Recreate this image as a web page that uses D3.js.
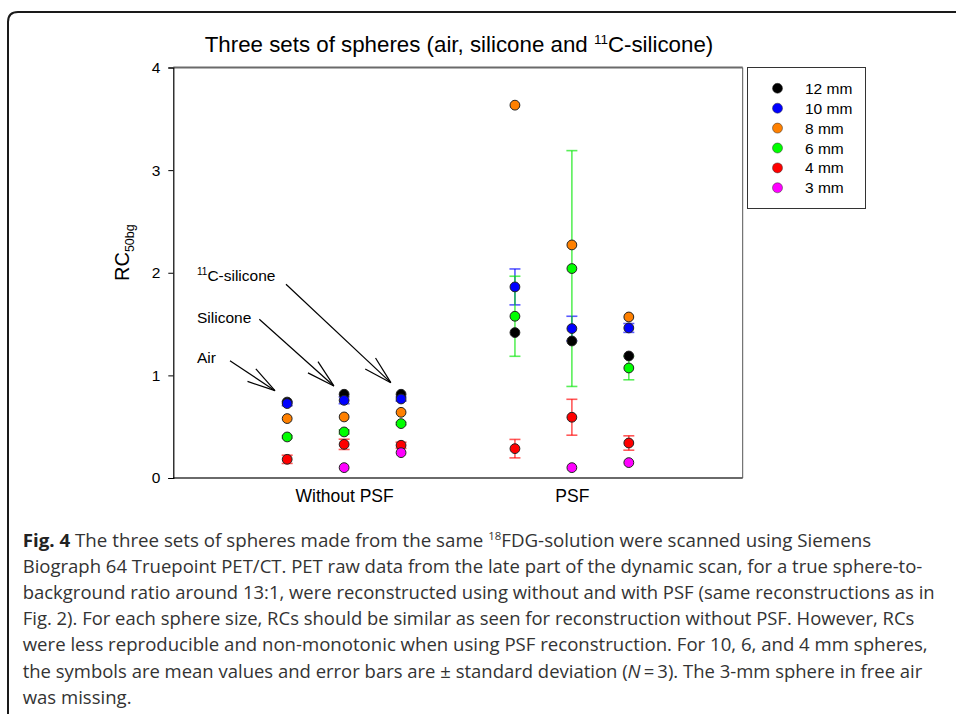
<!DOCTYPE html>
<html>
<head>
<meta charset="utf-8">
<script src="https://cdn.jsdelivr.net/npm/d3@7/dist/d3.min.js"></script>
<style>
  body { margin: 0; background: #fff; }
  svg { display: block; }
  text { font-family: "Liberation Sans", Arial, sans-serif; }
</style>
</head>
<body>
<script>
// ---------------- data ----------------
const categories = ["Without PSF", "PSF"];
const categorySlots = [1, 5];
const sets = ["Air", "Silicone", "11C-silicone"];
// slot position of each column (Without PSF: air, silicone, 11C; PSF: air, silicone, 11C)
const columnSlots = [0, 1, 2, 4, 5, 6];

const sizes = ["12 mm", "10 mm", "8 mm", "6 mm", "4 mm", "3 mm"];
const sizeColors = ["#000000", "#0000ff", "#ff8000", "#00ff00", "#ff0000", "#ff00ff"];

const rc12 = [0.74, 0.816, 0.816, 1.417, 1.335, 1.189];
const rc10 = [0.725, 0.757, 0.77, 1.862, 1.456, 1.462];
const rc8  = [0.579, 0.595, 0.64, 3.633, 2.271, 1.569];
const rc6  = [0.40, 0.449, 0.53, 1.576, 2.041, 1.072];
const rc4  = [0.182, 0.328, 0.319, 0.286, 0.592, 0.341];
const rc3  = [null, 0.101, 0.247, null, 0.101, 0.150];

const sd10 = [0.02, 0.033, 0.02, 0.175, 0.12, 0.043];
const sd6  = [0.012, 0.02, 0.012, 0.39, 1.149, 0.115];
const sd4  = [0.04, 0.05, 0.03, 0.09, 0.175, 0.07];

const yTicks = [0, 1, 2, 3, 4];

// annotation labels and arrows, in data units (slot, RC)
const annLabels = ["Air", "Silicone", "C-silicone"];
const annLabelSup = ["", "", "11"];
const annTextPos = [[-1.584, 1.124], [-1.584, 1.514], [-1.584, 1.920]];
const annArrowFrom = [[-1.005, 1.143], [-0.49, 1.547], [-0.021, 1.888]];
const annArrowTo = [[-0.214, 0.851], [0.82, 0.897], [1.82, 0.929]];

const captionLines = [
  [["b", "Fig. 4"], ["n", " The three sets of spheres made from the same "], ["sup", "18"], ["n", "FDG-solution were scanned using Siemens"]],
  [["n", "Biograph 64 Truepoint PET/CT. PET raw data from the late part of the dynamic scan, for a true sphere-to-"]],
  [["n", "background ratio around 13:1, were reconstructed using without and with PSF (same reconstructions as in"]],
  [["n", "Fig. 2). For each sphere size, RCs should be similar as seen for reconstruction without PSF. However, RCs"]],
  [["n", "were less reproducible and non-monotonic when using PSF reconstruction. For 10, 6, and 4 mm spheres,"]],
  [["n", "the symbols are mean values and error bars are \u00b1 standard deviation ("], ["i", "N"], ["n", "\u2009=\u20093). The 3-mm sphere in free air"]],
  [["n", "was missing."]]
];
const captionEnds = [871.7, 923, 935, 915, 928, 922.7, null];

// ---------------- chart ----------------
const W = 956, H = 714;
const svg = d3.select("body").append("svg").attr("width", W).attr("height", H);

// figure border with rounded top-left corner
svg.append("path")
  .attr("d", "M8,720 L8,22 Q8,12 18,12 L960,12")
  .attr("fill", "none").attr("stroke", "#1a1a1a").attr("stroke-width", 2);

const plot = { left: 173.3, right: 742.7, top: 67.5, bottom: 478 };
const x = d3.scaleLinear().domain([-2, 8]).range([plot.left, plot.right]);
const y = d3.scaleLinear().domain([0, 4]).range([plot.bottom, plot.top]);

// frame
svg.append("line").attr("x1", plot.left).attr("x2", plot.right).attr("y1", plot.top).attr("y2", plot.top)
  .attr("stroke", "#6a6a6a").attr("stroke-width", 2);
svg.append("line").attr("x1", plot.left).attr("x2", plot.right).attr("y1", plot.bottom).attr("y2", plot.bottom)
  .attr("stroke", "#6a6a6a").attr("stroke-width", 2);
svg.append("line").attr("x1", plot.right).attr("x2", plot.right).attr("y1", plot.top).attr("y2", plot.bottom)
  .attr("stroke", "#555").attr("stroke-width", 1);

// y axis
const yAxis = svg.append("g").attr("transform", `translate(${plot.left},0)`)
  .call(d3.axisLeft(y).tickValues(yTicks).tickSize(5).tickPadding(8).tickFormat(d3.format("d")));
yAxis.select(".domain").attr("stroke", "#000").attr("stroke-width", 1.2);
yAxis.selectAll(".tick line").attr("stroke", "#000");
yAxis.selectAll(".tick text").attr("font-size", 15.5).attr("fill", "#000")
  .attr("font-family", "Liberation Sans, Arial, sans-serif");

// x axis (category labels)
const xAxis = svg.append("g").attr("transform", `translate(0,${plot.bottom})`)
  .call(d3.axisBottom(x).tickValues(categorySlots).tickSize(0).tickPadding(12)
    .tickFormat((d, i) => categories[i]));
xAxis.select(".domain").remove();
xAxis.selectAll(".tick text").attr("font-size", 17.5).attr("fill", "#000")
  .attr("font-family", "Liberation Sans, Arial, sans-serif");

// title
const title = svg.append("text").attr("x", 459).attr("y", 52).attr("text-anchor", "middle")
  .attr("font-size", 22.3).attr("fill", "#000");
title.append("tspan").text("Three sets of spheres (air, silicone and ");
title.append("tspan").attr("font-size", 13.5).attr("dy", -8).text("11");
title.append("tspan").attr("dy", 8).text("C-silicone)");

// y label
const yl = svg.append("text").attr("transform", "translate(129,281) rotate(-90)")
  .attr("font-size", 20).attr("fill", "#000");
yl.append("tspan").text("RC");
yl.append("tspan").attr("font-size", 12.5).attr("dy", 5).text("50bg");

// annotations
const ann = svg.append("g");
annLabels.forEach((lab, i) => {
  const t = ann.append("text").attr("x", x(annTextPos[i][0])).attr("y", y(annTextPos[i][1]))
    .attr("font-size", 15.5).attr("fill", "#000");
  if (annLabelSup[i]) {
    t.append("tspan").attr("font-size", 10).attr("dy", -6).text(annLabelSup[i]);
    t.append("tspan").attr("dy", 6).text(lab);
  } else {
    t.text(lab);
  }
  const x1 = x(annArrowFrom[i][0]), y1 = y(annArrowFrom[i][1]);
  const x2 = x(annArrowTo[i][0]), y2 = y(annArrowTo[i][1]);
  ann.append("line").attr("x1", x1).attr("y1", y1).attr("x2", x2).attr("y2", y2)
    .attr("stroke", "#000").attr("stroke-width", 1.2);
  const back = Math.atan2(y1 - y2, x1 - x2);
  [-15, 15].forEach(deg => {
    const a = back + deg * Math.PI / 180;
    ann.append("line").attr("x1", x2).attr("y1", y2)
      .attr("x2", x2 + 29 * Math.cos(a)).attr("y2", y2 + 29 * Math.sin(a))
      .attr("stroke", "#000").attr("stroke-width", 1.2);
  });
});

// error bars
const errSeries = [
  { vals: rc10, sd: sd10, color: "#0000ff" },
  { vals: rc6, sd: sd6, color: "#00e600" },
  { vals: rc4, sd: sd4, color: "#ff0000" }
];
const eg = svg.append("g");
errSeries.forEach(s => {
  s.vals.forEach((v, i) => {
    if (v == null) return;
    const cx = x(columnSlots[i]);
    const yt = y(v + s.sd[i]), yb = y(v - s.sd[i]);
    const g = eg.append("g").attr("stroke", s.color).attr("stroke-opacity", 0.65).attr("stroke-width", 1.6);
    g.append("line").attr("x1", cx).attr("x2", cx).attr("y1", yt).attr("y2", yb);
    g.append("line").attr("x1", cx - 5.5).attr("x2", cx + 5.5).attr("y1", yt).attr("y2", yt);
    g.append("line").attr("x1", cx - 5.5).attr("x2", cx + 5.5).attr("y1", yb).attr("y2", yb);
  });
});

// points
const allSeries = [rc12, rc10, rc8, rc6, rc4, rc3];
const pg = svg.append("g");
allSeries.forEach((vals, si) => {
  pg.selectAll(null).data(vals.map((v, i) => ({ v, i })).filter(d => d.v != null))
    .enter().append("circle")
    .attr("cx", d => x(columnSlots[d.i]))
    .attr("cy", d => y(d.v))
    .attr("r", 4.9)
    .attr("fill", sizeColors[si])
    .attr("stroke", "#222").attr("stroke-width", 1);
});

// legend
const lg = svg.append("g");
lg.append("rect").attr("x", 747.5).attr("y", 67.5).attr("width", 118).attr("height", 141)
  .attr("fill", "#fff").attr("stroke", "#333").attr("stroke-width", 1);
sizes.forEach((s, i) => {
  const cy = 88.3 + i * 19.9;
  lg.append("circle").attr("cx", 777.5).attr("cy", cy).attr("r", 5)
    .attr("fill", sizeColors[i]).attr("stroke", "#333").attr("stroke-width", 0.5);
  lg.append("text").attr("x", 805).attr("y", cy + 5.5).attr("font-size", 15.5).attr("fill", "#000").text(s);
});

// caption
const cap = svg.append("g");
const scales = [];
const capNodes = captionLines.map((parts, li) => {
  const t = cap.append("text").attr("x", 0).attr("y", 0)
    .attr("font-size", 18).attr("fill", "#333")
    .style("font-family", "'Open Sans', 'Noto Sans', sans-serif");
  parts.forEach(([kind, str]) => {
    const ts = t.append("tspan").text(str);
    if (kind === "b") ts.attr("font-weight", "bold").attr("fill", "#222");
    if (kind === "i") ts.attr("font-style", "italic");
    if (kind === "sup") { ts.attr("font-size", 11).attr("dy", -7); }
  });
  t.selectAll("tspan").each(function (d, k) {
    if (k > 0 && parts[k - 1][0] === "sup") d3.select(this).attr("dy", 7);
  });
  return t;
});
const xStart = 22.7;
capNodes.forEach((t, li) => {
  const w = t.node().getComputedTextLength();
  if (captionEnds[li] != null) scales.push((captionEnds[li] - xStart) / w);
});
const meanScale = d3.mean(scales);
capNodes.forEach((t, li) => {
  const w = t.node().getComputedTextLength();
  const s = captionEnds[li] != null ? (captionEnds[li] - xStart) / w : meanScale;
  t.attr("transform", `translate(${xStart},${547 + li * 26.1}) scale(${s},1)`);
});
</script>
</body>
</html>
